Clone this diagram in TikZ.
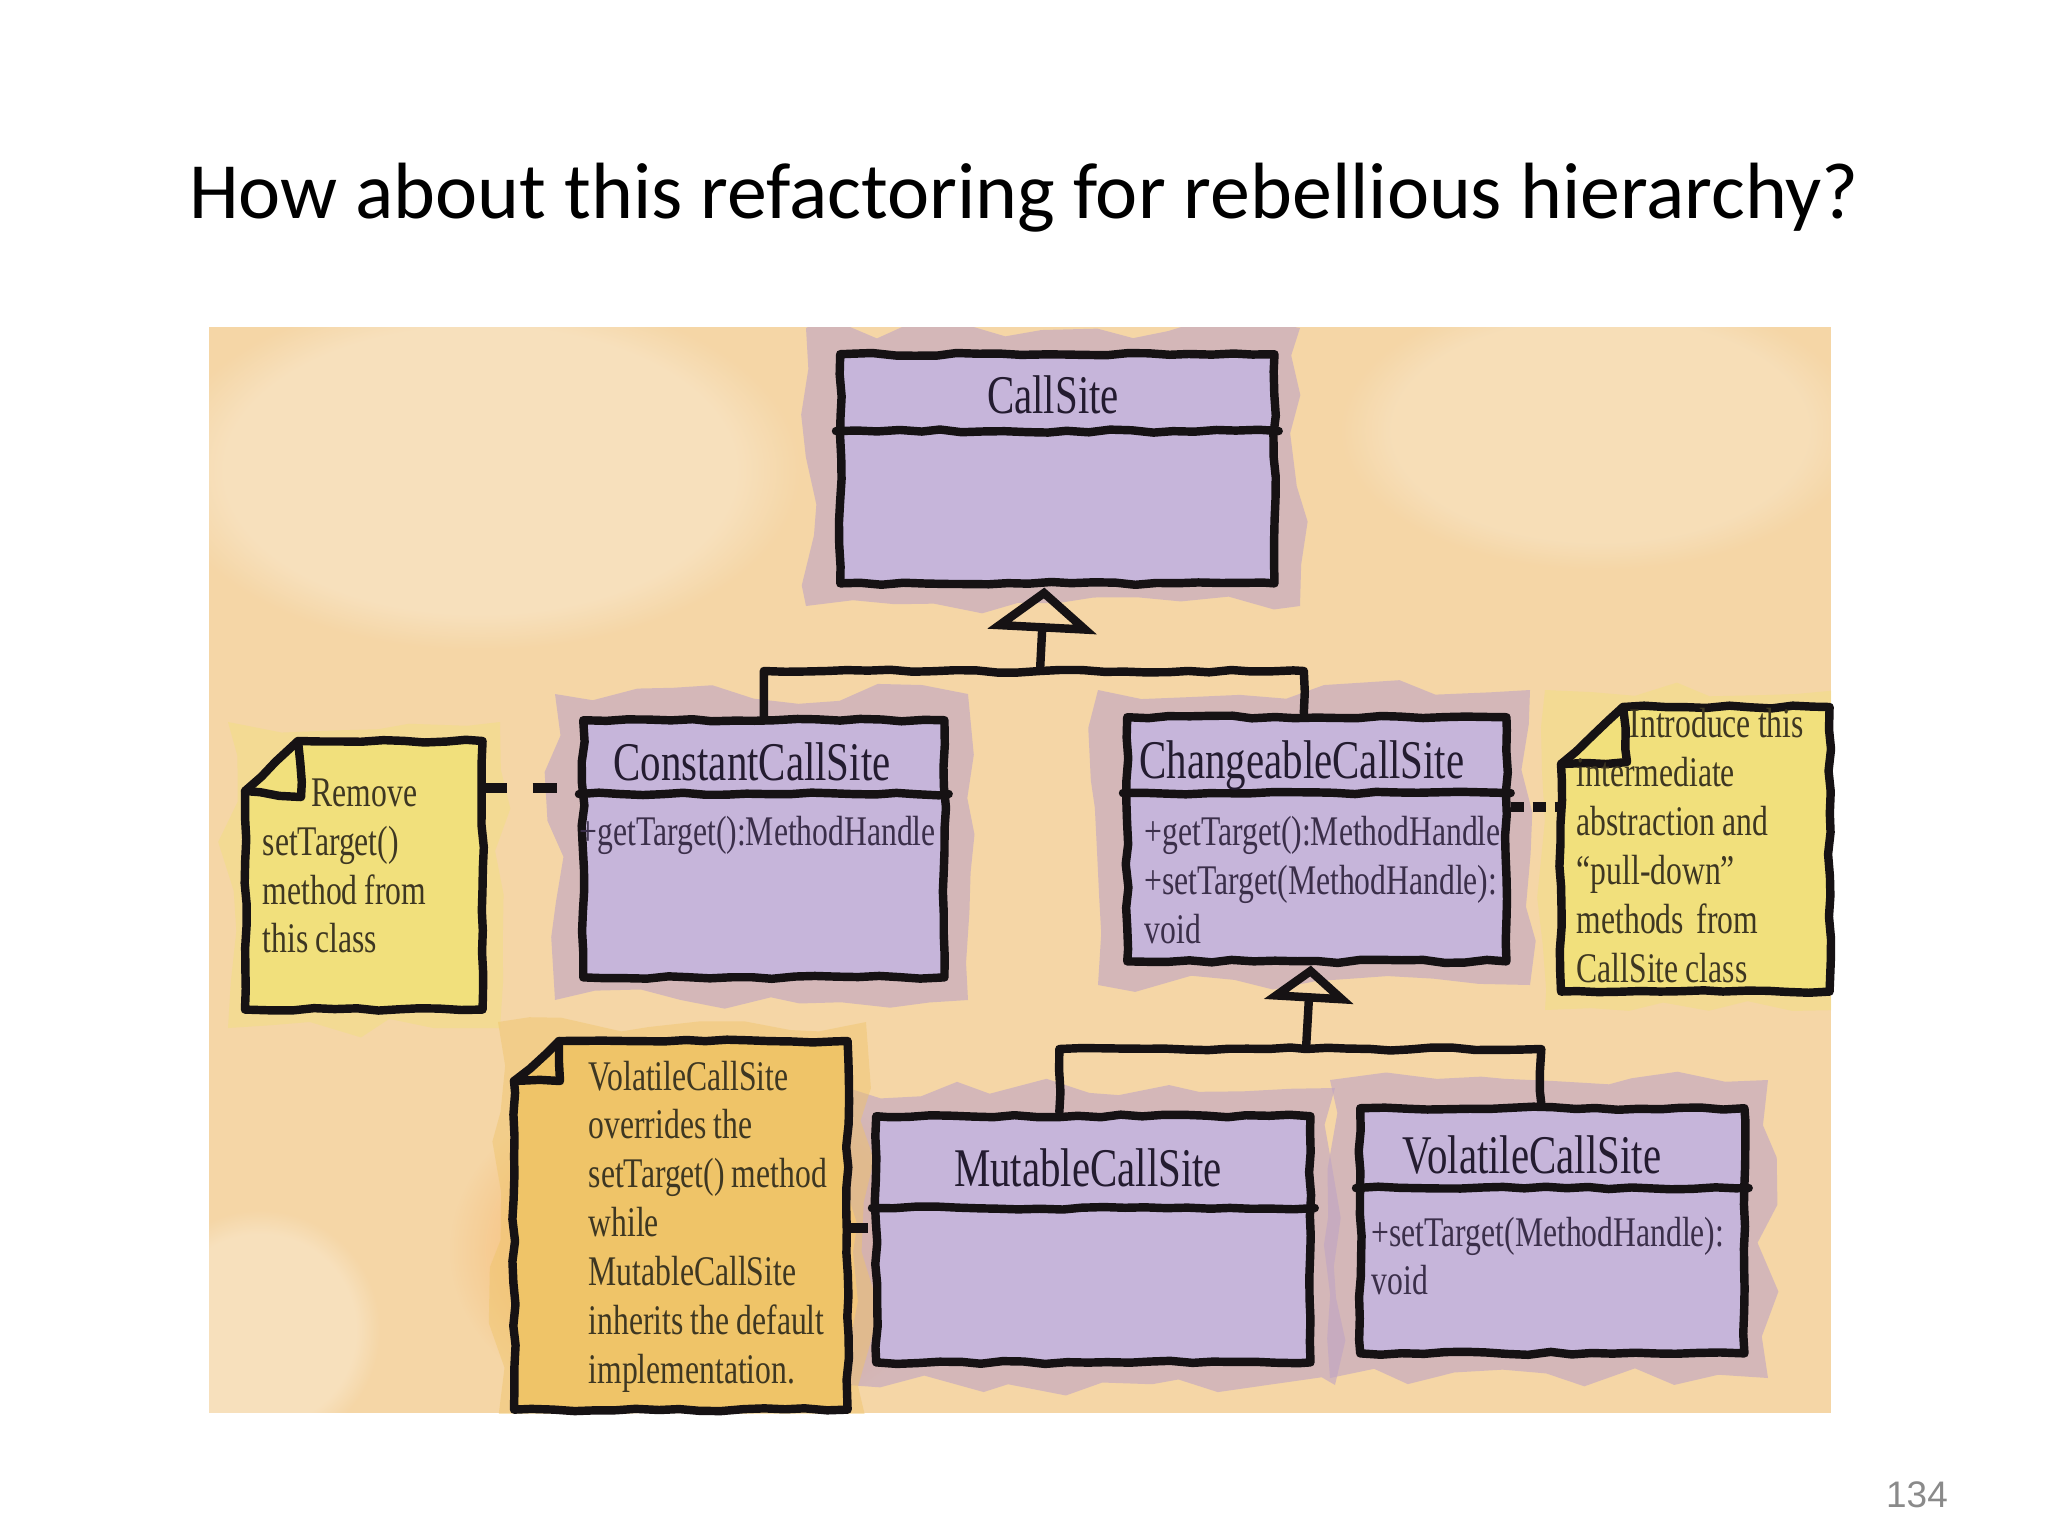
\documentclass[tikz,border=0pt]{standalone}
\usepackage{fontspec}
\setmainfont{Liberation Serif}
\newfontfamily\handfont[FakeStretch=0.75]{Liberation Serif}
\newfontfamily\titlefont{Carlito}
\newfontfamily\numfont{Liberation Sans}
\newcommand\tightspacing{\spaceskip=0.17em plus 0.05em\relax}
\usetikzlibrary{arrows.meta,decorations.pathmorphing,fadings}
\definecolor{panel}{HTML}{F5D6A6}
\definecolor{boxfill}{HTML}{C6B5DA}
\definecolor{halo}{HTML}{BFA3C4}
\definecolor{ink}{HTML}{161214}
\definecolor{noteA}{HTML}{F1E07C}
\definecolor{noteB}{HTML}{EFC468}
\definecolor{classtext}{HTML}{241C30}
\definecolor{methodtext}{HTML}{3B2F4A}
\definecolor{notetext}{HTML}{3E3722}
\definecolor{pagenum}{HTML}{8A8A8A}
\tikzset{
  sketch/.style={draw=ink, line width=2.4pt, line join=round, line cap=round,
    decorate, decoration={random steps, segment length=6pt, amplitude=0.45pt}},
  classbox/.style={sketch, fill=boxfill, rectangle, inner sep=0pt, anchor=north west},
  halobox/.style={fill=halo, fill opacity=0.6, decorate,
    decoration={random steps, segment length=12pt, amplitude=3pt}},
  notehalo/.style={fill=#1, fill opacity=0.45, decorate,
    decoration={random steps, segment length=12pt, amplitude=3pt}},
  blot/.style={fill=#1, path fading=circle with fuzzy edge 20 percent},
  ctitle/.style={font=\handfont\fontsize{15.5}{18}\selectfont, text=classtext, anchor=base, inner sep=0pt},
  cmethod/.style={font=\handfont\fontsize{12}{13.9}\selectfont\tightspacing, text=methodtext, anchor=north west,
    inner sep=0pt, align=flush left, text width=4cm},
  notetxt/.style={font=\handfont\fontsize{12}{13.9}\selectfont\tightspacing, text=notetext, anchor=north west,
    inner sep=0pt, align=flush left, text width=3.2cm},
  noteanchor/.style={rectangle, inner sep=0pt, anchor=north west},
  link/.style={sketch},
  inherit/.style={draw=ink, line width=2.4pt, line join=round,
    -{Triangle[open, length=0.44cm, width=1.08cm, line width=2.4pt]}},
  inheritb/.style={draw=ink, line width=2.4pt, line join=round,
    -{Triangle[open, length=0.36cm, width=0.88cm, line width=2.4pt]}},
  notelink/.style={draw=ink, line width=2.8pt, dash pattern=on 0.24cm off 0.26cm},
}
\begin{document}
\begin{tikzpicture}[x=0.01cm, y=-0.01cm]
\pgfmathsetseed{7}
\useasboundingbox (0,0) rectangle (2048,1536);
\fill[white] (0,0) rectangle (2048,1536);

% title and page number
\node[font=\titlefont\fontsize{22.7}{27}\selectfont, anchor=base, inner sep=0pt] (title) at (1024,218)
  {How about this refactoring for rebellious hierarchy?};
\node[font=\numfont\fontsize{10.5}{12}\selectfont, text=pagenum, anchor=base, inner sep=0pt] (pagenr) at (1917,1507) {134};

% watercolour panel
\fill[panel] (209,327) rectangle (1831,1413);
\begin{scope}
\clip (209,327) rectangle (1831,1413);
\fill[blot=white, opacity=0.25] (480,470) ellipse (3.2cm and 1.8cm);
\fill[blot=white, opacity=0.2] (1600,430) ellipse (2.6cm and 1.4cm);
\fill[blot=white, opacity=0.25] (260,1330) ellipse (1.2cm and 1.2cm);
\fill[blot=orange!70!panel, opacity=0.2] (700,1250) ellipse (2.5cm and 1.8cm);
% halos
\fill[halobox] (806,328) rectangle (1300,606);
\fill[halobox] (555,694) rectangle (968,1000);
\fill[halobox] (1098,690) rectangle (1530,985);
\fill[halobox] (848,1088) rectangle (1335,1385);
\fill[halobox] (1330,1080) rectangle (1768,1378);
\fill[notehalo=noteA] (228,722) rectangle (500,1028);
\fill[notehalo=noteA] (1545,690) rectangle (1840,1010);
\fill[notehalo=noteB] (498,1022) rectangle (866,1420);
\end{scope}

% class boxes
\node[classbox, minimum width=4.34cm, minimum height=2.29cm] (callsite) at (836,350) {};
\node[classbox, minimum width=3.61cm, minimum height=2.57cm] (constant) at (579,716) {};
\node[classbox, minimum width=3.79cm, minimum height=2.44cm] (changeable) at (1123,713) {};
\node[classbox, minimum width=4.34cm, minimum height=2.46cm] (mutable) at (872,1112) {};
\node[classbox, minimum width=3.84cm, minimum height=2.45cm] (volatile) at (1356,1104) {};

% compartments
\draw[sketch] ([yshift=-0.81cm]callsite.north west) -- ([yshift=-0.81cm]callsite.north east);
\draw[sketch] ([yshift=-0.78cm]constant.north west) -- ([yshift=-0.78cm]constant.north east);
\draw[sketch] ([yshift=-0.80cm]changeable.north west) -- ([yshift=-0.80cm]changeable.north east);
\draw[sketch] ([yshift=-0.96cm]mutable.north west) -- ([yshift=-0.96cm]mutable.north east);
\draw[sketch] ([yshift=-0.84cm]volatile.north west) -- ([yshift=-0.84cm]volatile.north east);

% class names
\node[ctitle] (callsite-t) at (1053,413) {CallSite};
\node[ctitle] (constant-t) at (752,780) {ConstantCallSite};
\node[ctitle] (changeable-t) at (1302,778) {ChangeableCallSite};
\node[ctitle] (mutable-t) at (1088,1186) {MutableCallSite};
\node[ctitle] (volatile-t) at (1532,1173) {VolatileCallSite};

% methods
\node[cmethod] (constant-m) at (579,816) {+getTarget():MethodHandle};
\node[cmethod] (changeable-m) at (1144,816) {+getTarget():MethodHandle\\+setTarget(MethodHandle):\\void};
\node[cmethod] (volatile-m) at (1371,1216) {+setTarget(MethodHandle):\\void};

% inheritance
\coordinate (t1) at ([xshift=-0.13cm]callsite.south);
\coordinate (j1) at (1040,671);
\draw[inherit] (j1) -- (t1);
\draw[link] (constant.north) |- (j1) -| ([xshift=-0.13cm]changeable.north);

\coordinate (t2) at ([xshift=-0.06cm]changeable.south);
\coordinate (j2) at (1306,1049);
\draw[inheritb] (j2) -- (t2);
\draw[link] ([xshift=-0.34cm]mutable.north) |- (j2) -| ([xshift=-0.11cm]volatile.north);

% notes
\node[noteanchor, minimum width=2.36cm, minimum height=2.67cm] (n1) at (245,741) {};
\node[noteanchor, minimum width=2.67cm, minimum height=2.83cm] (n2) at (1561,707) {};
\node[noteanchor, minimum width=3.32cm, minimum height=3.67cm] (n3) at (514,1041) {};

\filldraw[sketch, fill=noteA] ([xshift=0.53cm]n1.north west) -- (n1.north east) -- (n1.south east)
  -- (n1.south west) -- ([yshift=-0.50cm]n1.north west) -- cycle;
\draw[sketch] ([xshift=0.53cm]n1.north west) -- ([shift={(0.56cm,-0.56cm)}]n1.north west)
  -- ([yshift=-0.50cm]n1.north west);

\filldraw[sketch, fill=noteA] ([xshift=0.62cm]n2.north west) -- (n2.north east) -- (n2.south east)
  -- (n2.south west) -- ([yshift=-0.57cm]n2.north west) -- cycle;
\draw[sketch] ([xshift=0.62cm]n2.north west) -- ([shift={(0.66cm,-0.55cm)}]n2.north west)
  -- ([yshift=-0.57cm]n2.north west);

\filldraw[sketch, fill=noteB] ([xshift=0.45cm]n3.north west) -- (n3.north east) -- (n3.south east)
  -- (n3.south west) -- ([yshift=-0.40cm]n3.north west) -- cycle;
\draw[sketch] ([xshift=0.45cm]n3.north west) -- ([shift={(0.46cm,-0.40cm)}]n3.north west)
  -- ([yshift=-0.40cm]n3.north west);

\node[notetxt] (n1t) at (262,778) {\hspace*{0.49cm}Remove\\setTarget()\\method from\\this class};
\node[notetxt] (n2t) at (1576,708) {\hspace*{0.53cm}Introduce this\\intermediate\\abstraction and\\“pull-down”\\methods\hspace{0.3em}from\\CallSite class};
\node[notetxt] (n3t) at (588,1060) {VolatileCallSite\\overrides the\\setTarget() method\\while\\MutableCallSite\\inherits the default\\implementation.};

% note links
\path ([yshift=-0.72cm]constant.north west) coordinate (c1);
\draw[notelink] (n1.east |- c1) -- (c1);
\path ([yshift=-0.94cm]changeable.north east) coordinate (c2);
\draw[notelink, dash pattern=on 0.13cm off 0.09cm] (c2) -- (n2.west |- c2);
\path ([yshift=-1.16cm]mutable.north west) coordinate (c3);
\draw[notelink, dash pattern=on 0.2cm off 0.1cm] (n3.east |- c3) -- (c3);
\end{tikzpicture}
\end{document}
